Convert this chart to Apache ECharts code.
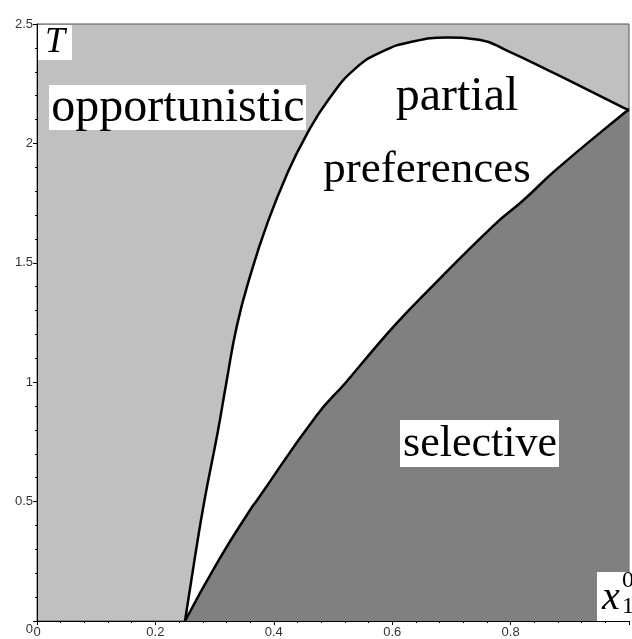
<!DOCTYPE html>
<html>
<head>
<meta charset="utf-8">
<script src="https://cdn.jsdelivr.net/npm/echarts@6/dist/echarts.min.js"></script>
<style>
body{margin:0;background:#fff;}
#chart{width:632px;height:639px;}
</style>
</head>
<body>
<div id="chart"></div>
<script>
// boundary between opportunistic and partial preferences
var upperX = [0.25, 0.266, 0.283, 0.305, 0.320, 0.338, 0.3606, 0.388, 0.4217, 0.455, 0.494, 0.538, 0.583, 0.633, 0.694, 0.749, 0.793, 0.877, 0.992, 1.0];
var upperT = [0, 0.255, 0.507, 0.787, 1.0, 1.24, 1.449, 1.658, 1.868, 2.035, 2.189, 2.314, 2.384, 2.426, 2.443, 2.433, 2.39, 2.29, 2.148, 2.14];
// boundary between partial preferences and selective
var lowerX = [0.25, 0.307, 0.36, 0.372, 0.472, 0.522, 0.572, 0.605, 0.65, 0.772, 0.822, 0.877, 0.992, 1.0];
var lowerT = [0, 0.255, 0.465, 0.507, 0.86, 1.0, 1.147, 1.24, 1.357, 1.658, 1.763, 1.89, 2.127, 2.14];
var xTicks = [0, 0.2, 0.4, 0.6, 0.8, 1];
var yTicks = [0, 0.5, 1, 1.5, 2, 2.5];

var pairs = function(xs, ys){
    return xs.map(function(x, i){ return [x, ys[i]]; });
};

var chart = echarts.init(document.getElementById('chart'));
var serif = '"Liberation Serif", "DejaVu Serif", serif';

chart.setOption({
    animation: false,
    backgroundColor: '#fff',
    grid: {
        left: 37, right: -5, top: 24, bottom: 18,
        show: true,
        backgroundColor: '#c0c0c0',
        borderColor: '#555',
        borderWidth: 1
    },
    xAxis: {
        type: 'value', min: xTicks[0], max: xTicks[xTicks.length - 1], interval: 0.2,
        z: 10,
        axisLine: {lineStyle: {color: '#000', width: 1}},
        axisTick: {length: 4, lineStyle: {color: '#000'}},
        minorTick: {show: true, splitNumber: 5, length: 2, lineStyle: {color: '#000'}},
        splitLine: {show: false},
        axisLabel: {
            margin: 5, color: '#333', fontFamily: '"Liberation Sans", Arial, sans-serif', fontSize: 13,
            formatter: function(v){ return v === 1 ? '' : String(v); }
        }
    },
    yAxis: {
        type: 'value', min: yTicks[0], max: yTicks[yTicks.length - 1], interval: 0.5,
        z: 10,
        axisLine: {lineStyle: {color: '#000', width: 1}},
        axisTick: {length: 4, lineStyle: {color: '#000'}},
        minorTick: {show: true, splitNumber: 5, length: 2, lineStyle: {color: '#000'}},
        splitLine: {show: false},
        axisLabel: {
            margin: 4, color: '#333', fontFamily: '"Liberation Sans", Arial, sans-serif', fontSize: 13,
            formatter: function(v){ return v === 0 ? '{z|0}' : String(v); },
            rich: {z: {padding: [16, 0, 0, 0], fontSize: 13, color: '#333'}}
        }
    },
    series: [
        {
            type: 'line', data: pairs(upperX, upperT), smooth: 0.5,
            symbol: 'none', z: 2,
            lineStyle: {color: '#000', width: 2.5},
            areaStyle: {color: '#fff', opacity: 1, origin: 'start'}
        },
        {
            type: 'line', data: pairs(lowerX, lowerT), smooth: 0.5,
            symbol: 'none', z: 3,
            lineStyle: {color: '#000', width: 2.5},
            areaStyle: {color: '#808080', opacity: 1, origin: 'start'}
        }
    ],
    graphic: [
        {type: 'rect', z: 100, shape: {x: 38, y: 25, width: 34, height: 35}, style: {fill: '#fff'}},
        {type: 'text', z: 101, x: 55, y: 43, style: {text: 'T', font: 'italic 36px ' + serif, fill: '#000', align: 'center', verticalAlign: 'middle'}},
        {type: 'rect', z: 100, shape: {x: 49, y: 85, width: 257, height: 45}, style: {fill: '#fff'}},
        {type: 'text', z: 101, x: 178, y: 108, style: {text: 'opportunistic', font: '48px ' + serif, fill: '#000', align: 'center', verticalAlign: 'middle'}},
        {type: 'text', z: 101, x: 457, y: 97, style: {text: 'partial', font: '48px ' + serif, fill: '#000', align: 'center', verticalAlign: 'middle'}},
        {type: 'text', z: 101, x: 427, y: 170, style: {text: 'preferences', font: '45px ' + serif, fill: '#000', align: 'center', verticalAlign: 'middle'}},
        {type: 'rect', z: 100, shape: {x: 400, y: 420, width: 159, height: 47}, style: {fill: '#fff'}},
        {type: 'text', z: 101, x: 480, y: 444, style: {text: 'selective', font: '44px ' + serif, fill: '#000', align: 'center', verticalAlign: 'middle'}},
        {type: 'rect', z: 100, shape: {x: 597, y: 572, width: 40, height: 49}, style: {fill: '#fff'}},
        {type: 'text', z: 101, x: 611, y: 598, style: {text: 'x', font: 'italic 40px ' + serif, fill: '#000', align: 'center', verticalAlign: 'middle'}},
        {type: 'text', z: 101, x: 628, y: 581, style: {text: '0', font: '24px ' + serif, fill: '#000', align: 'center', verticalAlign: 'middle'}},
        {type: 'text', z: 101, x: 628, y: 607, style: {text: '1', font: '24px ' + serif, fill: '#000', align: 'center', verticalAlign: 'middle'}}
    ]
});
</script>
</body>
</html>
